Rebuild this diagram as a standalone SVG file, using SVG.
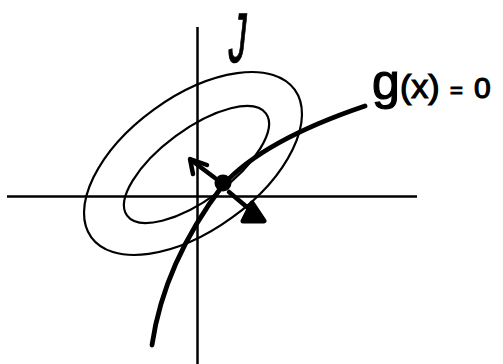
<svg xmlns="http://www.w3.org/2000/svg" width="503" height="364" viewBox="0 0 503 364">
  <style>
    .axis { stroke: #000; stroke-width: 2.5; fill: none; }
    .contour { stroke: #000; stroke-width: 2.2; fill: none; }
    .curve { stroke: #000; stroke-width: 4.8; fill: none; stroke-linecap: round; }
    .arrow { stroke: #000; stroke-width: 4.5; fill: none; stroke-linecap: round; stroke-linejoin: round; }
    .head { stroke: #000; stroke-width: 5; fill: #000; stroke-linecap: round; stroke-linejoin: round; }
    .hand { font-family: "Liberation Sans", Arial, sans-serif; font-weight: normal; fill: #000; stroke: #000; stroke-width: 1.2; }
  </style>
  <rect width="503" height="364" fill="#fff"/>
  <g id="axes">
    <line class="axis" x1="7" y1="196.5" x2="417" y2="196.5"/>
    <line class="axis" x1="197.5" y1="27" x2="197.5" y2="364"/>
  </g>
  <g id="contour-outer">
    <ellipse class="contour" cx="0" cy="0" rx="125.7" ry="66.7" transform="translate(193,163.5) rotate(-36)"/>
  </g>
  <g id="contour-inner">
    <ellipse class="contour" cx="0" cy="0" rx="86.2" ry="35.2" transform="translate(196.5,164.5) rotate(-36.4)"/>
  </g>
  <g id="constraint-curve">
    <path class="curve" d="M152,345 C160,290 185,235 223,185 C250,155 300,128 365,106"/>
  </g>
  <g id="point">
    <circle cx="223" cy="183" r="8.5" fill="#000"/>
  </g>
  <g id="connectors">
    <g id="arrow-up-left">
      <line class="arrow" x1="215" y1="178" x2="191" y2="160"/>
      <polyline class="arrow" stroke-width="5" points="193,174 190,159 207,165"/>
    </g>
    <g id="arrow-down-right">
      <line class="arrow" stroke-width="5" x1="229" y1="192" x2="261" y2="219"/>
      <polygon class="head" points="252,203 264,221 243,221"/>
    </g>
  </g>
  <g id="label-J">
    <text class="hand" font-size="70" stroke-width="2" transform="translate(227,62) skewX(-6) scale(0.5,1)">J</text>
  </g>
  <g id="label-g">
    <text class="hand" y="99"><tspan x="372" font-size="50">g</tspan><tspan x="400" y="98" font-size="34">(x)</tspan><tspan x="450" y="98" font-size="22">=</tspan><tspan x="474" y="98" font-size="30">0</tspan></text>
  </g>
</svg>
